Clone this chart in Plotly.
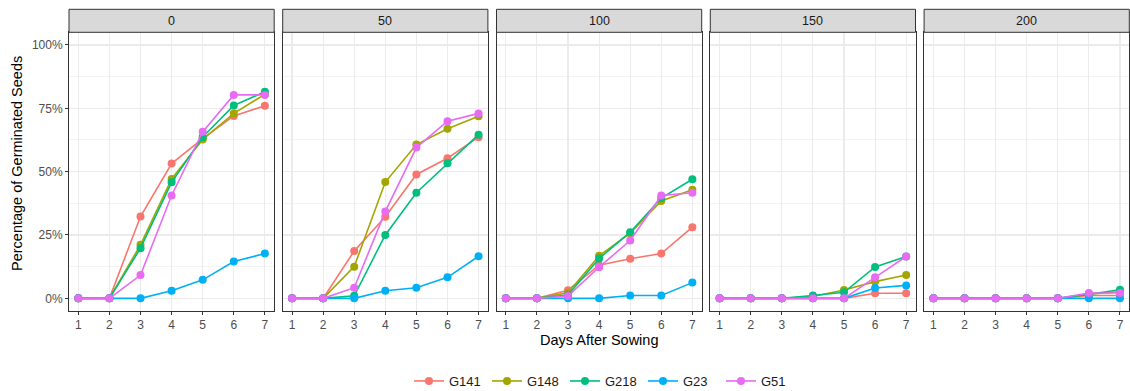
import plotly.graph_objects as go

days = [1, 2, 3, 4, 5, 6, 7]
panels = ["0", "50", "100", "150", "200"]
genotypes = ["G141", "G148", "G218", "G23", "G51"]
colors = ["#F8766D", "#A3A500", "#00BF7D", "#00B0F6", "#E76BF3"]

G141 = {
    "0": [0, 0, 32.3, 53.2, 63.0, 72.0, 76.0],
    "50": [0, 0, 18.7, 32.2, 48.9, 55.3, 63.6],
    "100": [0, 0, 3.2, 13.1, 15.6, 17.7, 28.1],
    "150": [0, 0, 0, 0, 0, 2.0, 2.0],
    "200": [0, 0, 0, 0, 0, 1.1, 1.1],
}
G148 = {
    "0": [0, 0, 21.1, 47.1, 62.7, 73.0, 80.5],
    "50": [0, 0, 12.5, 45.9, 60.7, 66.9, 71.9],
    "100": [0, 0, 2.2, 16.8, 25.7, 38.4, 42.9],
    "150": [0, 0, 0, 0.7, 3.3, 6.6, 9.2],
    "200": [0, 0, 0, 0, 0, 1.6, 2.6],
}
G218 = {
    "0": [0, 0, 19.8, 45.8, 63.7, 76.1, 81.5],
    "50": [0, 0, 1.0, 25.0, 41.7, 53.3, 64.6],
    "100": [0, 0, 1.3, 15.7, 26.1, 39.6, 47.0],
    "150": [0, 0, 0, 1.1, 2.4, 12.4, 16.5],
    "200": [0, 0, 0, 0, 0, 1.6, 3.4],
}
G23 = {
    "0": [0, 0, 0, 3.0, 7.3, 14.5, 17.7],
    "50": [0, 0, 0, 3.0, 4.2, 8.3, 16.6],
    "100": [0, 0, 0, 0, 1.1, 1.1, 6.2],
    "150": [0, 0, 0, 0, 0, 4.1, 5.1],
    "200": [0, 0, 0, 0, 0, 0, 0],
}
G51 = {
    "0": [0, 0, 9.2, 40.6, 65.7, 80.3, 80.3],
    "50": [0, 0, 4.2, 34.3, 59.5, 69.9, 73.0],
    "100": [0, 0, 0.9, 12.3, 22.8, 40.6, 41.7],
    "150": [0, 0, 0, 0, 0, 8.3, 16.5],
    "200": [0, 0, 0, 0, 0, 2.1, 2.1],
}
series = {"G141": G141, "G148": G148, "G218": G218, "G23": G23, "G51": G51}

W, H = 1130, 391
panel_left = [69, 282.7, 496.5, 710.3, 924.1]
panel_w = 205.2
top_px, bottom_px = 32.3, 311.0
strip_top_px = 9.3

fig = go.Figure()
FONT = "Liberation Sans, Arial, sans-serif"

for pi, p in enumerate(panels):
    xa = "x" if pi == 0 else f"x{pi+1}"
    ya = "y" if pi == 0 else f"y{pi+1}"
    for gi, g in enumerate(genotypes):
        fig.add_trace(go.Scatter(
            x=days, y=[v / 100 for v in series[g][p]],
            mode="lines+markers", name=g, legendgroup=g,
            showlegend=(pi == 0),
            line=dict(color=colors[gi], width=1.6),
            marker=dict(color=colors[gi], size=8),
            xaxis=xa, yaxis=ya,
        ))

ydom = [(H - bottom_px) / H, (H - top_px) / H]
layout = dict(
    width=W, height=H, autosize=False,
    margin=dict(l=0, r=0, t=0, b=0, pad=0, autoexpand=False),
    paper_bgcolor="white", plot_bgcolor="white",
    font=dict(family=FONT, color="#1A1A1A"),
    showlegend=True,
    legend=dict(orientation="h", x=604 / W, xanchor="center", y=(H - 381) / H,
                yanchor="middle", font=dict(size=13, color="#1A1A1A"),
                itemwidth=30, entrywidth=33, entrywidthmode="pixels",
                bgcolor="rgba(0,0,0,0)"),
)
shapes = []
annotations = []
for pi, p in enumerate(panels):
    x0 = panel_left[pi] / W
    x1 = (panel_left[pi] + panel_w) / W
    xk = "xaxis" if pi == 0 else f"xaxis{pi+1}"
    yk = "yaxis" if pi == 0 else f"yaxis{pi+1}"
    layout[xk] = dict(
        domain=[x0, x1], anchor="y" if pi == 0 else f"y{pi+1}",
        range=[0.7, 7.3], tickvals=days, ticktext=[str(d) for d in days],
        showgrid=True, gridcolor="#EBEBEB", gridwidth=1.1,
        showline=True, mirror=True, linecolor="#333333", linewidth=1,
        ticks="outside", ticklen=3, tickcolor="#333333", tickwidth=1,
        tickfont=dict(size=12, color="#4D4D4D", family=FONT),
        zeroline=False, fixedrange=True, automargin=False,
    )
    layout[yk] = dict(
        domain=ydom, anchor="x" if pi == 0 else f"x{pi+1}",
        range=[-0.05, 1.05], tickvals=[0, 0.25, 0.5, 0.75, 1.0],
        ticktext=["0%", "25%", "50%", "75%", "100%"],
        showticklabels=(pi == 0),
        ticks="outside" if pi == 0 else "", ticklen=3, tickcolor="#333333",
        tickfont=dict(size=12, color="#4D4D4D", family=FONT),
        showgrid=True, gridcolor="#EBEBEB", gridwidth=1.1,
        minor=dict(dtick=0.125, tick0=0, showgrid=True, gridcolor="#EBEBEB", gridwidth=0.6),
        showline=True, mirror=True, linecolor="#333333", linewidth=1,
        zeroline=False, fixedrange=True, automargin=False,
    )
    shapes.append(dict(
        type="rect", xref="paper", yref="paper",
        x0=x0, x1=x1, y0=(H - top_px) / H, y1=(H - strip_top_px) / H,
        fillcolor="#D9D9D9", line=dict(color="#333333", width=1), layer="above",
    ))
    annotations.append(dict(
        text=p, xref="paper", yref="paper", x=(x0 + x1) / 2,
        y=(H - (strip_top_px + top_px) / 2) / H, showarrow=False,
        xanchor="center", yanchor="middle",
        font=dict(size=12.5, color="#1A1A1A", family=FONT),
    ))

annotations.append(dict(
    text="Days After Sowing", xref="paper", yref="paper",
    x=(panel_left[0] + panel_left[-1] + panel_w) / 2 / W, y=(H - 340) / H,
    showarrow=False, xanchor="center", yanchor="middle",
    font=dict(size=14.5, color="#000000", family=FONT),
))
annotations.append(dict(
    text="Percentage of Germinated Seeds", xref="paper", yref="paper",
    x=17 / W, y=(H - 164) / H, textangle=-90,
    showarrow=False, xanchor="center", yanchor="middle",
    font=dict(size=14.5, color="#000000", family=FONT),
))
layout["shapes"] = shapes
layout["annotations"] = annotations
fig.update_layout(**layout)

fig.write_html(
    "out.html",
    config={"displayModeBar": False, "staticPlot": True},
    post_script="document.body.style.margin='0';document.body.style.padding='0';document.body.style.overflow='hidden';",
)
